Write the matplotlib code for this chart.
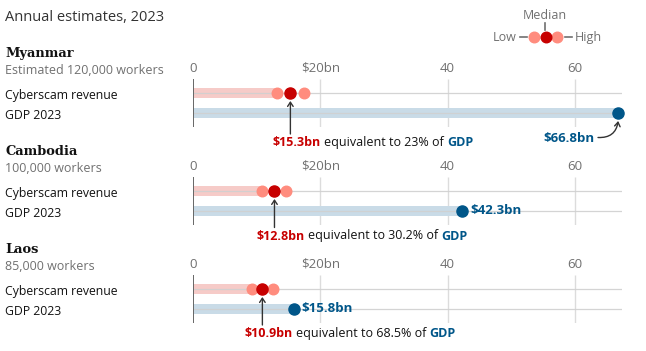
import matplotlib
matplotlib.use('Agg')
import matplotlib.pyplot as plt
from matplotlib.patches import FancyArrowPatch

# ---------------- data ----------------
countries = ['Myanmar', 'Cambodia', 'Laos']
workers = ['Estimated 120,000 workers', '100,000 workers', '85,000 workers']
rev_low = [13.2, 10.9, 9.3]
rev_median = [15.3, 12.8, 10.9]
rev_high = [17.4, 14.6, 12.5]
gdp = [66.8, 42.3, 15.8]
gdp_share = ['23%', '30.2%', '68.5%']
row_labels = ['Cyberscam revenue', 'GDP 2023']
tick_values = [0, 20, 40, 60]
tick_labels = ['0', '$20bn', '40', '60']
title = 'Annual estimates, 2023'

# ---------------- style ----------------
W, H = 646, 351
SANS = ['Open Sans', 'DejaVu Sans']
SERIF = ['DejaVu Serif']
RED = '#c70000'
SALMON = '#ff8c7e'
PINK = '#f6cbc8'
BLUE = '#005689'
LBLUE = '#c9dbe7'
GREY = '#707070'
DARK = '#121212'
GRID = '#dcdcdc'

plt.rcParams['font.family'] = SANS

fig = plt.figure(figsize=(W / 100, H / 100), dpi=100)
renderer = fig.canvas.get_renderer()


def fx(x):
    return x / W


def fy(y):
    return 1 - y / H


def ftext(x, y, s, **kw):
    return fig.text(fx(x), fy(y), s, **kw)


def multitext(x, y, parts, size):
    sp = fig.text(0, 0, 'a a', fontsize=size)
    sp2 = fig.text(0, 0, 'aa', fontsize=size)
    space = sp.get_window_extent(renderer).width - sp2.get_window_extent(renderer).width
    sp.remove(); sp2.remove()
    for i, (s, color, weight) in enumerate(parts):
        t = ftext(x, y, s, color=color, fontweight=weight, fontsize=size,
                  va='baseline', ha='left')
        x += t.get_window_extent(renderer).width + space


# title
ftext(5, 21, title, fontsize=10.5, color='#333333', va='baseline')

# legend (key only)
ftext(545, 19, 'Median', fontsize=9, color=GREY, ha='center', va='baseline')
fig.add_artist(plt.Line2D([fx(545), fx(545)], [fy(23), fy(30)], color=GREY, lw=1.2))
for xx, c in [(534, SALMON), (557, SALMON), (545.5, RED)]:
    fig.add_artist(plt.Line2D([fx(xx)], [fy(37)], marker='o', ms=7.6, color=c, lw=0))
fig.add_artist(plt.Line2D([fx(520), fx(527)], [fy(37), fy(37)], color=GREY, lw=1.2))
fig.add_artist(plt.Line2D([fx(565), fx(572)], [fy(37), fy(37)], color=GREY, lw=1.2))
ftext(516, 41, 'Low', fontsize=9, color=GREY, ha='right', va='baseline')
ftext(575, 41, 'High', fontsize=9, color=GREY, ha='left', va='baseline')

panel_top = [79, 177, 275]
ann_off = [67, 62.5, 62]
AX_L, AX_R, AX_H = 193, 622, 48
XMAX = 67.4

for i in range(3):
    T = panel_top[i]
    ax = fig.add_axes([fx(AX_L), fy(T + AX_H), (AX_R - AX_L) / W, AX_H / H])
    ax.set_xlim(0, XMAX)
    ax.set_ylim(-0.7, 1.7)
    for s in ax.spines.values():
        s.set_visible(False)
    ax.set_yticks([])
    ax.set_xticks(tick_values, tick_labels)
    ax.xaxis.tick_top()
    ax.tick_params(axis='x', length=0, pad=3, labelsize=9.5, labelcolor=GREY)
    ax.patch.set_alpha(0)

    ax.vlines(tick_values[1:], -0.7, 1.7, color=GRID, lw=1, zorder=0)
    ax.axvline(0, color='#666666', lw=1.4, zorder=6)
    ax.barh([1], [rev_low[i]], height=0.5, color=PINK, zorder=1)
    ax.barh([0], [gdp[i]], height=0.48, color=LBLUE, zorder=1)
    ax.hlines([0, 1], 0, XMAX, color='#d0d0d0', lw=0.9, zorder=2, alpha=0.9)

    ax.plot([rev_low[i], rev_high[i]], [1, 1], 'o', color=SALMON, ms=7.6, zorder=4, clip_on=False)
    ax.plot([rev_median[i]], [1], 'o', color=RED, ms=8, zorder=5, clip_on=False)
    ax.plot([gdp[i]], [0], 'o', color=BLUE, ms=8, zorder=5, clip_on=False)

    # left texts
    ftext(5, T - 22, countries[i], family=SERIF, fontweight='bold', fontsize=9.4,
          color=DARK, va='baseline')
    ftext(5, T - 4.5, workers[i], fontsize=9, color=GREY, va='baseline')
    ftext(5, T + 19.5, row_labels[0], fontsize=8.8, color=DARK, va='baseline')
    ftext(5, T + 40, row_labels[1], fontsize=8.8, color=DARK, va='baseline')

    # annotation
    mx, my = ax.transData.transform((rev_median[i], 1))
    mx_px = mx
    my_px = H - my
    base = T + ann_off[i]
    multitext(mx_px - 18, base,
              [(f'${rev_median[i]}bn', RED, 'bold'),
               (f'equivalent to {gdp_share[i]} of', DARK, 'normal'),
               ('GDP', BLUE, 'bold')], 9)
    fig.add_artist(FancyArrowPatch((fx(mx_px), fy(base - 12)), (fx(mx_px), fy(my_px + 8)),
                                   transform=fig.transFigure, arrowstyle='->,head_length=3,head_width=2',
                                   color='#333333', lw=1, shrinkA=0, shrinkB=0))

    # GDP label
    gx, gy = ax.transData.transform((gdp[i], 0))
    if i == 0:
        ftext(594, T + 62.5, f'${gdp[i]}bn', fontsize=9.5, fontweight='bold', color=BLUE,
              ha='right', va='baseline')
        fig.add_artist(FancyArrowPatch((fx(598), fy(T + 58.5)), (fx(gx), fy(H - gy + 8)),
                                       transform=fig.transFigure,
                                       connectionstyle='arc3,rad=0.45',
                                       arrowstyle='->,head_length=3,head_width=2',
                                       color='#333333', lw=1, shrinkA=0, shrinkB=0))
    else:
        ax.annotate(f'${gdp[i]}bn', xy=(gdp[i], 0), xytext=(8, 0), textcoords='offset pixels',
                    fontsize=9.5, fontweight='bold', color=BLUE, va='center', ha='left',
                    annotation_clip=False)

fig.savefig('out.png', dpi=100)
